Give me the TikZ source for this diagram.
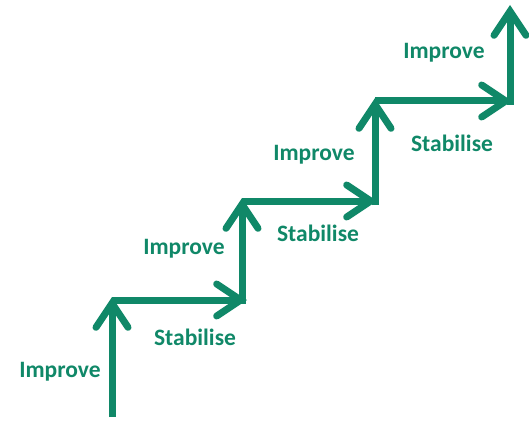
\documentclass[tikz,border=0pt]{standalone}
\usepackage{fontspec}
\setmainfont{Carlito}
\usetikzlibrary{arrows.meta}
\definecolor{stairgreen}{RGB}{16,136,104}
\tikzset{
  stairarrow/.style={draw=stairgreen, line width=7pt,
    -{Straight Barb[length=24pt,width=32pt,line cap=round,line join=miter]}},
  lbl/.style={text=stairgreen, font=\bfseries\fontsize{23.5}{28}\selectfont, inner sep=0pt}
}
\begin{document}
\begin{tikzpicture}[x=1pt,y=1pt]
\useasboundingbox (0,0) rectangle (529,421);
\coordinate (v1s) at (112,4);
\coordinate (v1e) at (112,124);
\coordinate (h1s) at (112,121);
\coordinate (h1e) at (247,121);
\coordinate (v2s) at (242,117);
\coordinate (v2e) at (242,223);
\coordinate (h2s) at (242,220);
\coordinate (h2e) at (377,220);
\coordinate (v3s) at (375,216);
\coordinate (v3e) at (375,323);
\coordinate (h3s) at (375,320);
\coordinate (h3e) at (512,320);
\coordinate (v4s) at (510,316);
\coordinate (v4e) at (510,416);
\draw[stairarrow] (v1s) -- (v1e);
\draw[stairarrow] (h1s) -- (h1e);
\draw[stairarrow] (v2s) -- (v2e);
\draw[stairarrow] (h2s) -- (h2e);
\draw[stairarrow] (v3s) -- (v3e);
\draw[stairarrow] (h3s) -- (h3e);
\draw[stairarrow] (v4s) -- (v4e);
\node[lbl] (i1) at (60,49) {Improve};
\node[lbl] (s1) at (195,84) {Stabilise};
\node[lbl] (i2) at (184,172) {Improve};
\node[lbl] (s2) at (318,188) {Stabilise};
\node[lbl] (i3) at (314,266) {Improve};
\node[lbl] (s3) at (452,278) {Stabilise};
\node[lbl] (i4) at (444,368) {Improve};
\end{tikzpicture}
\end{document}
